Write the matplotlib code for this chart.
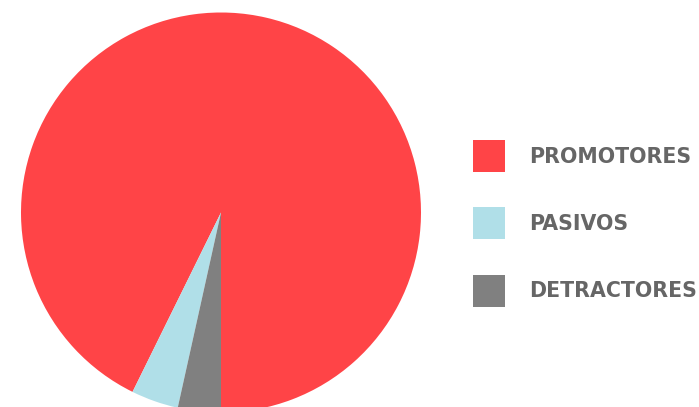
import matplotlib
matplotlib.use("Agg")
import matplotlib.pyplot as plt
from matplotlib.patches import Patch

# Net Promoter breakdown
categories = ["PROMOTORES", "PASIVOS", "DETRACTORES"]
values = [267, 11, 10]
colors = ["#FF4447", "#B0DFE8", "#808080"]

W, H, DPI = 699, 407, 100
fig = plt.figure(figsize=(W / DPI, H / DPI), dpi=DPI)
fig.patch.set_facecolor("white")

# Pie occupies a 400x400 px square; its bottom runs slightly past the canvas
cx, cy, r = 221, 212.5, 200
ax = fig.add_axes([(cx - r) / W, (H - cy - r) / H, 2 * r / W, 2 * r / H])
wedges, _ = ax.pie(values, colors=colors, startangle=-90, counterclock=True,
                   wedgeprops=dict(linewidth=0, antialiased=True))
ax.set_xlim(-1, 1)
ax.set_ylim(-1, 1)
ax.set_aspect("equal")
ax.axis("off")

fs = 14.8
fs_px = fs * DPI / 72
sq = 32  # legend swatch size in px
hl = sq / fs_px
hh = (sq / fs_px - 0.245) / 0.65
handles = [Patch(facecolor=c, edgecolor="none") for c in colors]
leg = fig.legend(handles, categories, loc="upper left",
                 bbox_to_anchor=(473 / W, 1 - 140 / H), borderaxespad=0,
                 borderpad=0, frameon=False, handlelength=hl, handleheight=hh,
                 handletextpad=24 / fs_px, labelspacing=1.72,
                 prop=dict(family="DejaVu Sans", weight="bold", size=fs))
for t in leg.get_texts():
    t.set_color("#666666")

fig.savefig("out.png", dpi=DPI)
